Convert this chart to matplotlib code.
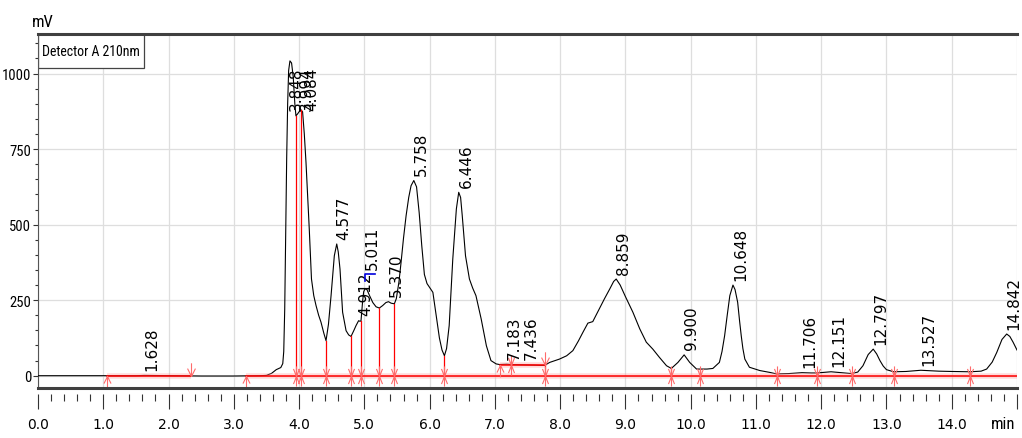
import numpy as np
import matplotlib
matplotlib.use('Agg')
import matplotlib.pyplot as plt
from matplotlib.path import Path
from matplotlib.patches import Rectangle
from matplotlib.ticker import MultipleLocator
from matplotlib import font_manager

# chromatogram trace: retention time (min) and signal (mV)
time = [0.00, 0.50, 1.00, 1.50, 1.63, 2.00, 2.50, 3.00, 3.40, 3.50, 3.58, 3.65, 3.72, 3.75,
        3.765, 3.78, 3.795, 3.81, 3.825, 3.84, 3.86, 3.885, 3.91, 3.935, 3.952, 3.975, 3.994,
        4.015, 4.03, 4.054, 4.08, 4.106, 4.13, 4.156, 4.19, 4.225, 4.26, 4.30, 4.336, 4.38,
        4.413, 4.45, 4.49, 4.54, 4.577, 4.60, 4.627, 4.667, 4.72, 4.76, 4.796, 4.84, 4.873,
        4.912, 4.935, 4.949, 4.975, 4.99, 5.011, 5.04, 5.08, 5.13, 5.18, 5.23, 5.28, 5.33,
        5.37, 5.41, 5.46, 5.49, 5.53, 5.563, 5.60, 5.64, 5.68, 5.716, 5.758, 5.80, 5.84, 5.88,
        5.92, 5.96, 6.00, 6.05, 6.10, 6.15, 6.19, 6.227, 6.26, 6.30, 6.355, 6.41, 6.446, 6.475,
        6.50, 6.55, 6.61, 6.66, 6.71, 6.79, 6.87, 6.94, 7.02, 7.071, 7.183, 7.25, 7.436, 7.60,
        7.70, 7.761, 7.84, 7.99, 8.10, 8.195, 8.28, 8.35, 8.425, 8.50, 8.60, 8.68, 8.76, 8.82,
        8.859, 8.92, 9.00, 9.115, 9.22, 9.32, 9.42, 9.52, 9.63, 9.704, 9.805, 9.90, 9.985,
        10.09, 10.153, 10.25, 10.34, 10.44, 10.48, 10.52, 10.56, 10.60, 10.648, 10.68, 10.72,
        10.75, 10.775, 10.80, 10.83, 10.90, 11.06, 11.21, 11.314, 11.50, 11.706, 11.85, 11.93,
        12.05, 12.151, 12.30, 12.465, 12.56, 12.64, 12.72, 12.797, 12.85, 12.90, 12.95, 13.00,
        13.11, 13.30, 13.527, 13.80, 14.00, 14.28, 14.45, 14.535, 14.62, 14.69, 14.77, 14.842,
        14.89, 14.94, 15.00]
signal = [0, 0, 0, 0, 1, 0, -1, -1, 0, 1, 8, 20, 27, 40,
          80, 220, 460, 720, 900, 1010, 1042, 1035, 990, 900, 860, 866, 872,
          878, 880, 873, 800, 706, 600, 486, 320, 265, 232, 200, 177, 140,
          116, 170, 265, 397, 436, 410, 353, 210, 149, 135, 130, 150, 166,
          182, 180, 182, 250, 278, 288, 285, 265, 242, 228, 224, 232, 242,
          245, 240, 238, 255, 310, 376, 455, 530, 590, 629, 646, 625, 540, 430,
          335, 305, 292, 276, 200, 125, 85, 66, 90, 166, 386, 552, 607, 590,
          530, 397, 320, 290, 265, 188, 99, 50, 39, 37, 38, 37, 36, 35,
          34, 34, 44, 55, 66, 83, 115, 144, 174, 179, 221, 255, 287, 312,
          320, 300, 262, 210, 155, 111, 88, 61, 33, 24, 44, 69, 44,
          22, 22, 22, 24, 44, 80, 132, 200, 265, 300, 285, 243,
          180, 132, 90, 55, 28, 17, 11, 6, 7, 10, 9, 9,
          11, 13, 10, 7, 12, 33, 70, 88, 72, 50, 32, 20,
          13, 14, 18, 15, 14, 13, 15, 22, 45, 77, 120, 138,
          130, 111, 85]

# detected peaks: retention time and apex height (mV)
peak_rt = [1.628, 3.848, 3.994, 4.084, 4.577, 4.912, 5.011, 5.370, 5.758, 6.446,
           7.183, 7.436, 8.859, 9.900, 10.648, 11.706, 12.151, 12.797, 13.527, 14.842]
peak_top = [2, 1042, 872, 880, 436, 182, 335, 245, 646, 607,
            38, 36, 320, 69, 300, 10, 13, 88, 18, 138]

# integration baselines: start, end, level (mV)
base_start = [1.063, 3.185, 7.071]
base_end = [2.34, 15.0, 7.761]
base_level = [0, 0, 36]

# peak boundary marks
bound_t = [1.063, 2.34, 3.185, 3.952, 4.029, 4.413, 4.796, 4.949, 5.230, 5.460, 6.227,
           7.071, 7.250, 7.761, 7.761, 9.704, 10.145, 11.318, 11.934, 12.465, 13.11, 14.285]
bound_kind = ['up', 'down', 'up', 'both', 'both', 'both', 'both', 'both', 'both', 'both', 'both',
              'up', 'both', 'down', 'both', 'both', 'both', 'both', 'both', 'both', 'both', 'both']
bound_level = [0, 0, 0, 0, 0, 0, 0, 0, 0, 0, 0,
               36, 36, 36, 0, 0, 0, 0, 0, 0, 0, 0]

x_ticks = list(range(15))
x_ticklabels = [f'{v:.1f}' for v in range(15)]
y_ticks = [0, 250, 500, 750, 1000]

# pick a narrow sans if one is installed (the original axis text is condensed)
fonts = font_manager.fontManager.ttflist
names = {f.name for f in fonts}
narrow = dict(family='Liberation Sans')
for cand in ['Liberation Sans Narrow', 'Roboto Condensed', 'Open Sans Condensed', 'DejaVu Sans Condensed']:
    if cand in names:
        narrow = dict(family=cand)
        break
else:
    if any(f.name == 'DejaVu Sans' and 'condensed' in str(f.stretch) for f in fonts):
        narrow = dict(family='DejaVu Sans', stretch='condensed')

fig = plt.figure(figsize=(10.22, 4.39), dpi=100)
ax = fig.add_axes([0.0372, 0.1139, 0.9579, 0.8064])

ax.plot(time, signal, color='black', lw=0.8, zorder=3)

# baselines
for s, e, lv in zip(base_start, base_end, base_level):
    ax.plot([s, e], [lv, lv], color='#ff9a9a', lw=4, alpha=0.35, zorder=3.5, solid_capstyle='butt')
    ax.plot([s, e], [lv, lv], color='#ff0000', lw=1.1, zorder=4)

# boundary arrows and drop lines
M, L = Path.MOVETO, Path.LINETO
marks = {
    'both': Path([(0, -1), (0, 1), (-0.3, 0.75), (0, 0), (0.3, 0.75), (-0.3, -0.75), (0, 0), (0.3, -0.75)],
                 [M, L, M, L, L, M, L, L]),
    'up': Path([(0, -1), (0, 0), (-0.3, -0.6), (0, 0), (0.3, -0.6)], [M, L, M, L, L]),
    'down': Path([(0, 1), (0, 0), (-0.3, 0.6), (0, 0), (0.3, 0.6)], [M, L, M, L, L]),
}
sizes = {'both': 14.5, 'up': 17, 'down': 19}
for t, k, lv in zip(bound_t, bound_kind, bound_level):
    if k == 'both':
        ax.plot([t, t], [lv, np.interp(t, time, signal)], color='#ff0000', lw=0.9, zorder=4)
    ax.plot([t], [lv], marker=marks[k], ms=sizes[k], mfc='none', mec='#ff6b6b', mew=0.8,
            linestyle='none', zorder=4.5, clip_on=False)

# peak retention time labels
for rt, h in zip(peak_rt, peak_top):
    ax.text(rt, min(h + 18, 880), f'{rt:.3f}', rotation=90, ha='left', va='bottom',
            fontsize=11, family='DejaVu Sans', zorder=5)

# peak top mark on the 5.011 shoulder
i = peak_rt.index(5.011)
ax.plot([peak_rt[i], peak_rt[i], peak_rt[i] + 0.15], [peak_top[i] - 20, peak_top[i], peak_top[i]],
        color='#0000dd', lw=1.2, zorder=5)

ax.set_xlim(0, 15)
ax.set_ylim(-40.7, 1131)
ax.set_xticks(x_ticks + [15])
ax.set_xticklabels(x_ticklabels + [''], fontsize=12, **narrow)
ax.set_yticks(y_ticks)
ax.set_yticklabels([str(v) for v in y_ticks], fontsize=10.5, **narrow)
ax.xaxis.set_minor_locator(MultipleLocator(0.2))
ax.yaxis.set_minor_locator(MultipleLocator(50))
ax.tick_params(axis='x', which='major', length=11, width=0.8, pad=6, color='#333333')
ax.tick_params(axis='x', which='minor', length=5, width=0.8, color='#333333')
ax.tick_params(axis='y', which='major', length=3.5, width=0.8, pad=1.5, color='#333333')
ax.tick_params(axis='y', which='minor', length=2, width=0.8, color='#333333')

# unit label in the place of the last x tick label
ax.annotate('min', xy=(15, 0), xycoords=('data', 'axes fraction'), xytext=(-1, -19.9),
            textcoords='offset points', ha='right', va='top', fontsize=12, **narrow)

ax.grid(True, which='major', color='#dedede', lw=0.9)
ax.set_axisbelow(True)

ax.spines['right'].set_visible(False)
ax.spines['top'].set_linewidth(2.2)
ax.spines['top'].set_color('#404040')
ax.spines['left'].set_linewidth(0.8)
ax.spines['left'].set_color('#555555')
ax.spines['bottom'].set_position(('outward', 4))
ax.spines['bottom'].set_color('none')
ax.plot([0, 1], [0, 0], transform=ax.transAxes, color='#404040', lw=2.2, clip_on=False, zorder=5)

# detector legend box sized around its text
det = ax.text(0.004, 0.952, 'Detector A 210nm', transform=ax.transAxes, ha='left', va='center',
              fontsize=10, zorder=2.2, **narrow)
renderer = fig.canvas.get_renderer()
box_w = max(0.088, (det.get_window_extent(renderer).width + 8) / ax.get_window_extent(renderer).width)
ax.add_patch(Rectangle((0, 0.905), box_w, 0.095, transform=ax.transAxes, fc='white',
                       ec='#444444', lw=0.9, zorder=2))

ax.text(-0.006, 1.014, 'mV', transform=ax.transAxes, ha='left', va='bottom',
        fontsize=12, **narrow)

fig.savefig('out.png', dpi=100)
